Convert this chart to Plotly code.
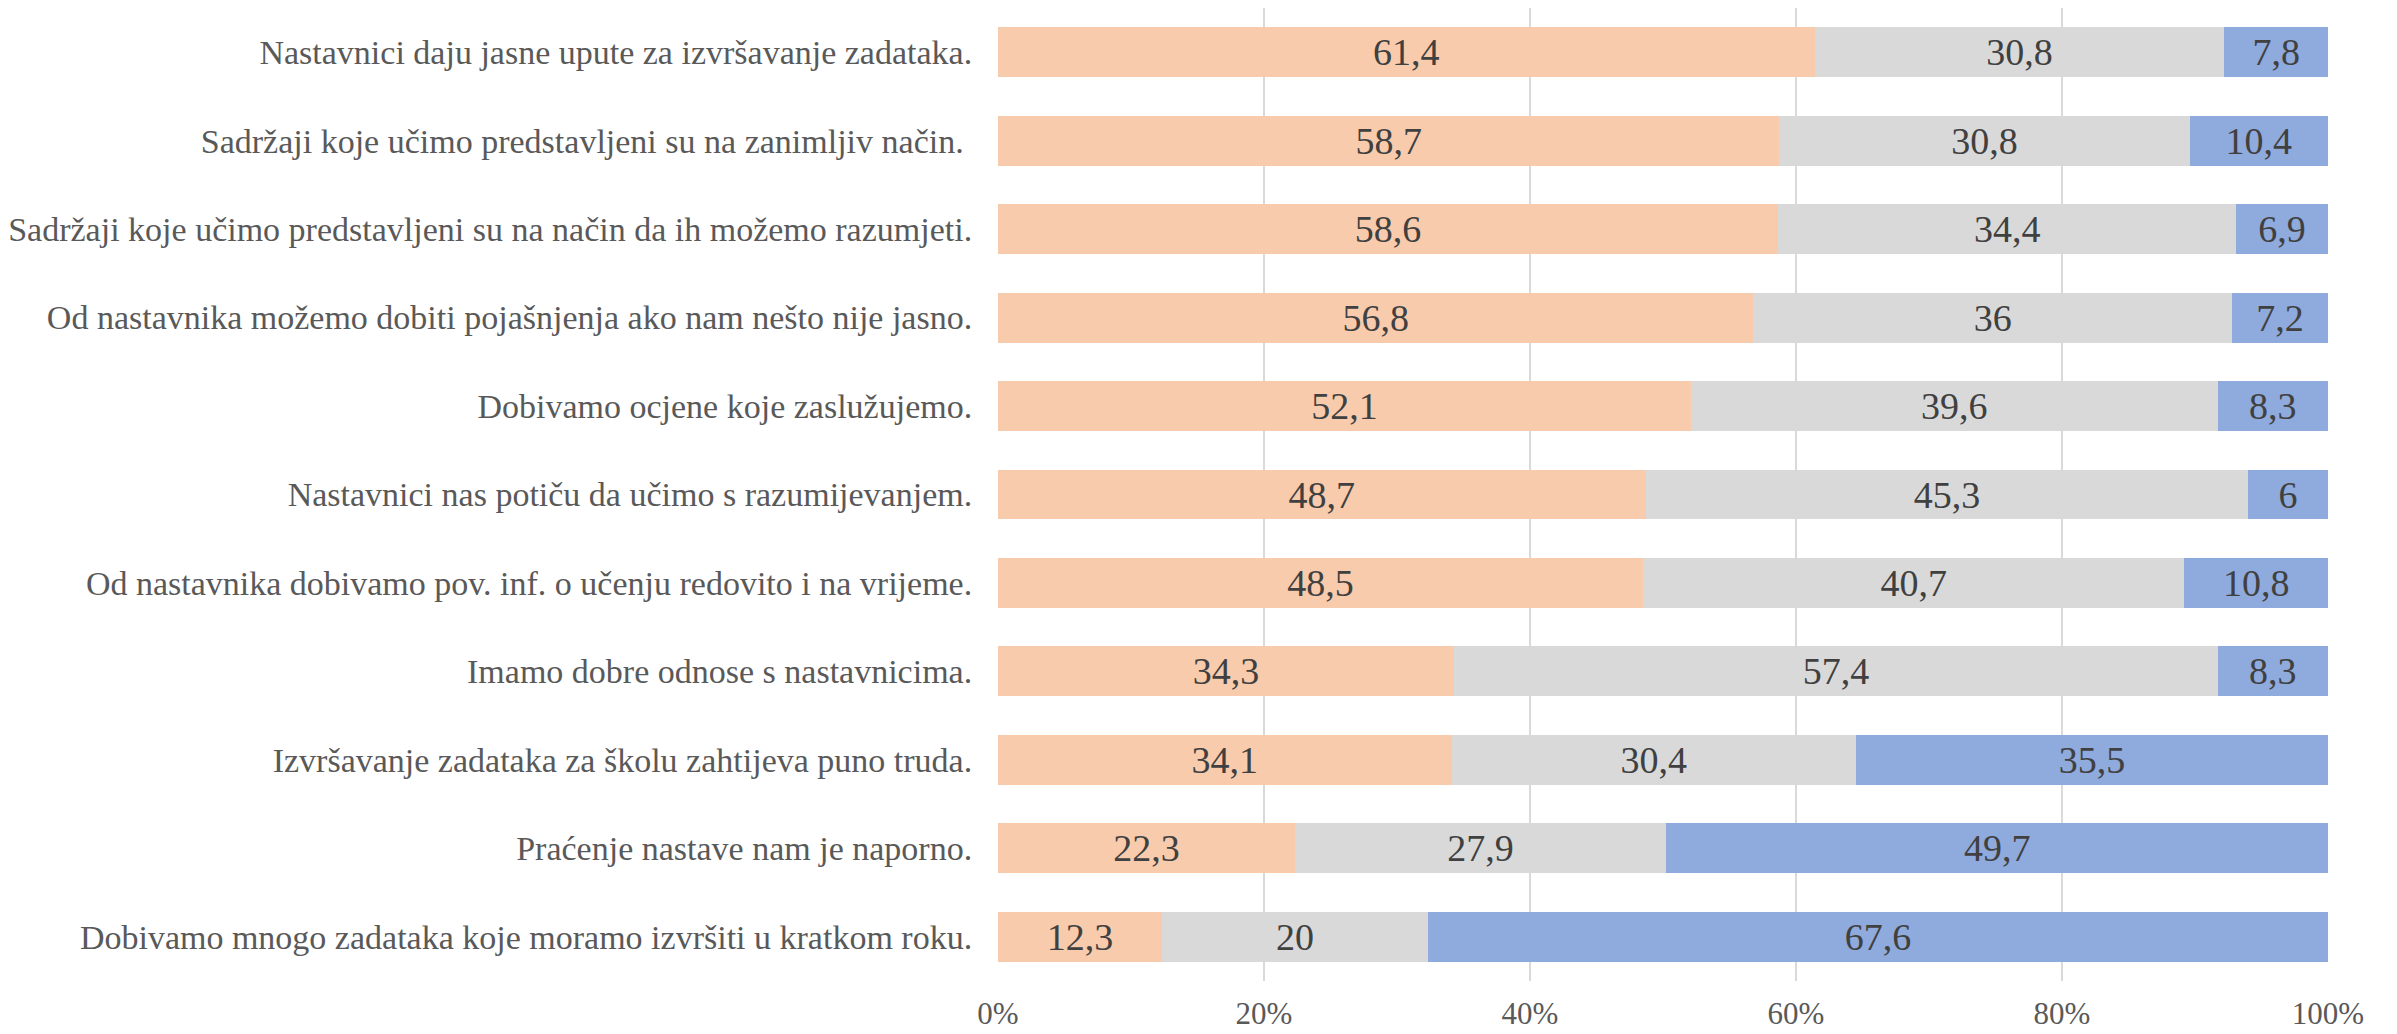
import plotly.graph_objects as go

# statements, top to bottom as in the chart
categories = [
    "Nastavnici daju jasne upute za izvršavanje zadataka.",
    "Sadržaji koje učimo predstavljeni su na zanimljiv način. ",
    "Sadržaji koje učimo predstavljeni su na način da ih možemo razumjeti.",
    "Od nastavnika možemo dobiti pojašnjenja ako nam nešto nije jasno.",
    "Dobivamo ocjene koje zaslužujemo.",
    "Nastavnici nas potiču da učimo s razumijevanjem.",
    "Od nastavnika dobivamo pov. inf. o učenju redovito i na vrijeme.",
    "Imamo dobre odnose s nastavnicima.",
    "Izvršavanje zadataka za školu zahtijeva puno truda.",
    "Praćenje nastave nam je naporno.",
    "Dobivamo mnogo zadataka koje moramo izvršiti u kratkom roku.",
]

series_1 = [61.4, 58.7, 58.6, 56.8, 52.1, 48.7, 48.5, 34.3, 34.1, 22.3, 12.3]
series_2 = [30.8, 30.8, 34.4, 36, 39.6, 45.3, 40.7, 57.4, 30.4, 27.9, 20]
series_3 = [7.8, 10.4, 6.9, 7.2, 8.3, 6, 10.8, 8.3, 35.5, 49.7, 67.6]

colors = ["#F8CBAD", "#D9D9D9", "#8FAADC"]
FONT = "Liberation Serif"


def fmt(v):
    return f"{v:g}".replace(".", ",")


fig = go.Figure()
for vals, col in zip([series_1, series_2, series_3], colors):
    fig.add_trace(go.Bar(
        y=categories,
        x=vals,
        orientation="h",
        marker=dict(color=col, line=dict(width=0)),
        text=[fmt(v) for v in vals],
        textposition="inside",
        insidetextanchor="middle",
        textangle=0,
        constraintext="none",
        textfont=dict(family=FONT, size=38, color="#404040"),
        hoverinfo="skip",
    ))

# page body has an 8px margin, so the figure is a bit smaller than the window
fig.update_layout(
    barmode="stack",
    barnorm="percent",
    bargap=0.435,
    showlegend=False,
    width=2389,
    height=1026,
    margin=dict(l=990, r=69, t=0, b=53, autoexpand=False),
    plot_bgcolor="white",
    paper_bgcolor="white",
    font=dict(family=FONT, size=34, color="#595959"),
)
fig.update_xaxes(
    range=[0, 100],
    dtick=20,
    ticksuffix="%",
    showgrid=True,
    gridcolor="#D9D9D9",
    gridwidth=1.5,
    zeroline=False,
    showline=False,
    ticks="outside",
    ticklen=5,
    tickcolor="rgba(0,0,0,0)",
    tickfont=dict(family=FONT, size=31, color="#595959"),
    automargin=False,
)
fig.update_yaxes(
    autorange="reversed",
    showgrid=False,
    showline=False,
    ticks="outside",
    ticklen=18,
    tickcolor="rgba(0,0,0,0)",
    tickfont=dict(family=FONT, size=34, color="#595959"),
    automargin=False,
)

fig.write_html("out.html")
